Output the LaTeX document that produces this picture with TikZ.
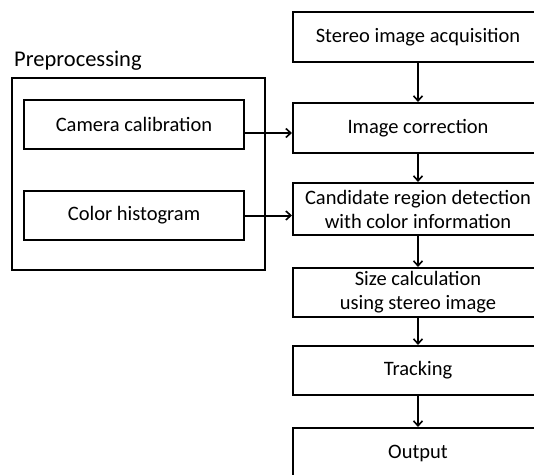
\documentclass[tikz,border=0pt]{standalone}
\usepackage{fontspec}
\setmainfont{Carlito}
\usetikzlibrary{arrows.meta}
\begin{document}
\begin{tikzpicture}[x=1pt,y=-1pt,
  box/.style={draw,line width=2pt,rectangle,inner sep=0pt,align=center,
    font=\fontsize{20.5}{24}\selectfont},
  arr/.style={line width=2pt,-{Straight Barb[length=5pt,width=9pt,line width=1.6pt]}},
  lbl/.style={font=\fontsize{22.5}{26}\selectfont,inner sep=0pt}]
\clip (0,0) rectangle (534,474);
\fill[white] (0,0) rectangle (534,474);
% main processing chain
\node[box,minimum width=250pt,minimum height=50pt] (acq) at (418,37) {Stereo image acquisition};
\node[box,minimum width=250pt,minimum height=50pt] (corr) at (418,128) {Image correction};
\node[box,minimum width=250pt,minimum height=52pt] (cand) at (418,209) {Candidate region detection\\with color information};
\node[box,minimum width=250pt,minimum height=49pt] (size) at (418,292.5) {Size calculation\\using stereo image};
\node[box,minimum width=250pt,minimum height=49pt] (track) at (418,370.5) {Tracking};
\node[box,minimum width=250pt,minimum height=50pt] (out) at (418,453) {Output};
% preprocessing group
\node[lbl,anchor=west] (pre) at (14,61) {Preprocessing};
\node[draw,line width=2pt,minimum width=253pt,minimum height=192pt,inner sep=0pt] (grp) at (138.5,174) {};
\node[box,minimum width=220pt,minimum height=49pt] (cal) at (134,124.5) {Camera calibration};
\node[box,minimum width=220pt,minimum height=49pt] (hist) at (134,215.5) {Color histogram};
% connectors
\draw[arr] (acq) -- (corr);
\draw[arr] (corr) -- (cand);
\draw[arr] (cand) -- (size);
\draw[arr] (size) -- (track);
\draw[arr] (track) -- (out);
\draw[arr] ([yshift=-8.5pt]cal.east) -- ([yshift=-5pt]corr.west);
\draw[arr] (hist.east) -- ([yshift=-6.5pt]cand.west);
\end{tikzpicture}
\end{document}
